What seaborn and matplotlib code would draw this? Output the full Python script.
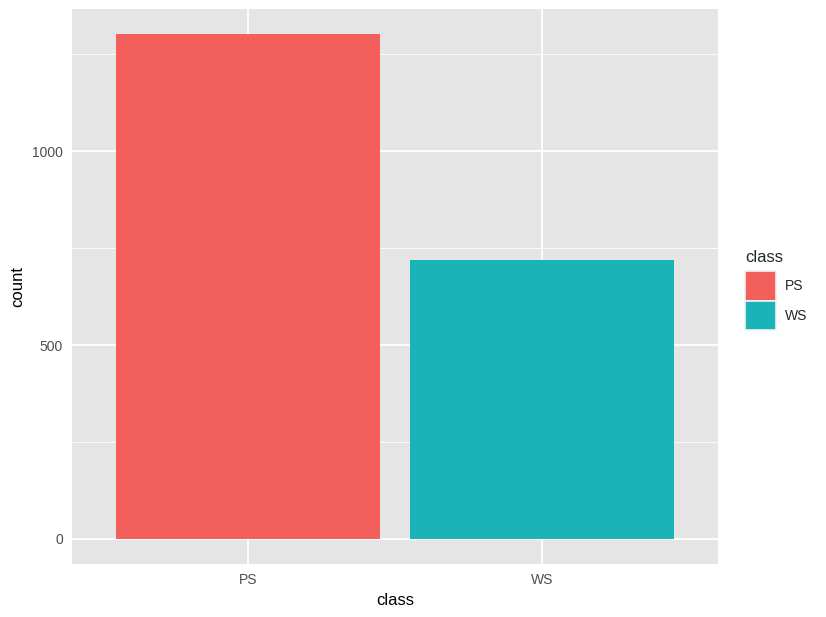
import matplotlib
matplotlib.use("Agg")
import matplotlib.pyplot as plt
import seaborn as sns
import pandas as pd
from matplotlib.patches import Patch

categories = ["PS", "WS"]
counts = [1302, 719]
colors = ["#F35F5A", "#1AB3B8"]

df = pd.DataFrame({"class": categories, "count": counts})

sns.set_style("white")
plt.rcParams["font.family"] = ["Liberation Sans", "DejaVu Sans"]

fig = plt.figure(figsize=(8.26, 6.17), dpi=100)
ax = fig.add_axes([72/826, 1-564/617, (718-72)/826, (564-9)/617])
ax.set_facecolor("#E5E5E5")

# grid
for y in [250, 750, 1250]:
    ax.axhline(y, color="white", lw=0.6, zorder=0)
for y in [0, 500, 1000]:
    ax.axhline(y, color="white", lw=1.3, zorder=0)
for x in [0, 1]:
    ax.axvline(x, color="white", lw=1.3, zorder=0)

sns.barplot(data=df, x="class", y="count", hue="class", palette=colors,
            width=0.9, saturation=1, ax=ax, legend=False, zorder=2)
for p in ax.patches:
    p.set_edgecolor("none")
    p.set_linewidth(0)

ax.set_xlim(-0.6, 1.6)
ax.set_ylim(-65, 1367)
ax.set_yticks([0, 500, 1000])
ax.set_yticklabels(["0", "500", "1000"])
for s in ax.spines.values():
    s.set_visible(False)
ax.tick_params(axis="both", length=3.5, width=0.8, color="#333333",
               labelsize=10, labelcolor="#4D4D4D", pad=3)
ax.set_xlabel("class", fontsize=12, color="black", labelpad=4)
ax.set_ylabel("count", fontsize=12, color="black", labelpad=5)

handles = [Patch(facecolor=c, edgecolor="#F2F2F2", linewidth=1.2) for c in colors]
leg = fig.legend(handles, categories, title="class", loc="upper left",
                 bbox_to_anchor=(745/826, 1-250/617), frameon=False,
                 fontsize=10, title_fontsize=12, handlelength=2.2,
                 handleheight=2.9, handletextpad=0.7, labelspacing=0.0,
                 borderaxespad=0, borderpad=0)
leg._legend_box.align = "left"
leg._legend_box.sep = 4.5

fig.savefig("out.png", dpi=100)
